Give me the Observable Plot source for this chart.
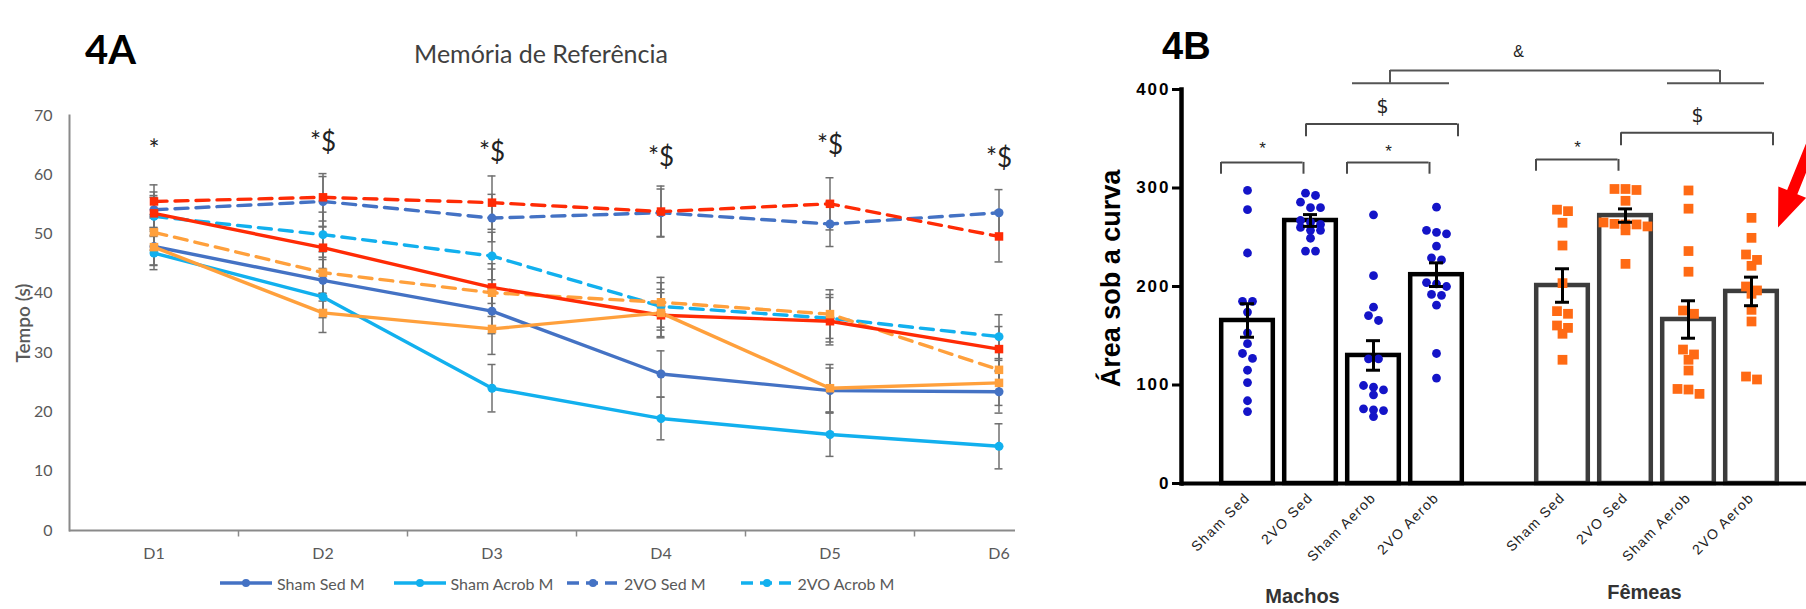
<!DOCTYPE html>
<html><head><meta charset="utf-8">
<script src="https://cdn.jsdelivr.net/npm/d3@7"></script>
<script src="https://cdn.jsdelivr.net/npm/@observablehq/plot@0.6"></script>
<style>
html,body{margin:0;padding:0;background:#fff;}
#root{position:relative;width:1806px;height:609px;overflow:hidden;background:#fff;}
#panelA{position:absolute;left:0;top:0;width:1015px;height:609px;overflow:hidden;}
#panelB{position:absolute;left:1050px;top:0;width:756px;height:609px;}
.lab{position:absolute;white-space:nowrap;line-height:1;}
#tagA{left:85px;top:25px;font:bold 40px Lato,sans-serif;color:#000;}
#tagB{left:1162px;top:25px;font:bold 38px "Liberation Sans",Arial,sans-serif;color:#000;}
#titleA{left:0;width:1082px;top:38px;text-align:center;font:25px Lato,sans-serif;color:#404040;}
#legendA{position:absolute;left:220px;top:574px;height:18px;display:flex;font:16px Lato,sans-serif;color:#595959;}
#legendA .item{width:173.5px;display:flex;align-items:center;}
#legendA svg{margin-right:5px;}
#panelA [aria-label^="x-axis"] text,#panelA [aria-label^="y-axis"] text{font-family:Lato,sans-serif;font-size:16px;fill:#595959;}
#panelB [aria-label^="y-axis"] text{font-family:"Liberation Sans",Arial,sans-serif;font-size:17px;font-weight:bold;letter-spacing:2px;fill:#000;}
#panelB [aria-label^="y-axis"] line,#panelB [aria-label^="y-axis"] path{stroke-width:3px;stroke:#000;}
#panelB [aria-label^="x-axis"] text{font-family:"Liberation Sans",Arial,sans-serif;font-size:14px;letter-spacing:1.3px;fill:#222;}
</style>
</head><body>
<div id="root">
  <div id="panelA"></div>
  <div id="panelB"></div>
  <div class="lab" id="tagA">4A</div>
  <div class="lab" id="titleA">Memória de Referência</div>
  <div class="lab" id="tagB">4B</div>
  <div id="legendA"></div>
</div>
<script>
// ================= Panel 4A data =================
const days = ["D1", "D2", "D3", "D4", "D5", "D6"];
const seriesA = ["Sham Sed M", "Sham Acrob M", "2VO Sed M", "2VO Acrob M", "Sham Sed F", "Sham Acrob F", "2VO Sed F", "2VO Acrob F"];
const legendSeriesA = ["Sham Sed M", "Sham Acrob M", "2VO Sed M", "2VO Acrob M"];
const shamSedM   = [47.9, 42.2, 37.0, 26.4, 23.6, 23.4];
const shamAcrobM = [46.8, 39.4, 24.0, 18.9, 16.2, 14.2];
const vo2SedM    = [54.1, 55.5, 52.7, 53.6, 51.7, 53.6];
const vo2AcrobM  = [53.0, 49.9, 46.3, 37.8, 35.8, 32.7];
const shamSedF   = [53.5, 47.7, 41.0, 36.3, 35.3, 30.6];
const shamAcrobF = [47.8, 36.7, 34.0, 36.7, 24.0, 24.9];
const vo2SedF    = [55.5, 56.2, 55.3, 53.8, 55.1, 49.6];
const vo2AcrobF  = [50.3, 43.5, 40.1, 38.5, 36.5, 27.1];
const semShamSedM   = [3.2, 3.5, 3.8, 3.9, 3.8, 3.6];
const semShamAcrobM = [2.8, 3.5, 4.0, 3.6, 3.7, 3.8];
const semVo2SedM    = [3.0, 4.2, 4.0, 4.0, 3.8, 3.9];
const semVo2AcrobM  = [3.2, 3.8, 4.0, 4.0, 4.0, 3.7];
const semShamSedF   = [3.0, 3.5, 4.0, 3.8, 4.0, 3.8];
const semShamAcrobF = [3.0, 3.3, 4.3, 4.0, 4.0, 3.8];
const semVo2SedF    = [2.8, 4.0, 4.5, 4.3, 4.4, 4.3];
const semVo2AcrobF  = [3.0, 3.5, 4.0, 4.2, 4.1, 3.8];
const yTicksA = [0, 10, 20, 30, 40, 50, 60, 70];
const sigLabelsA = ["*", "*$", "*$", "*$", "*$", "*$"];
const sigYA = [64.1, 65.4, 63.8, 62.9, 64.9, 62.7];

// ================= Panel 4B data =================
const groupsB = ["Sham Sed M", "2VO Sed M", "Sham Aerob M", "2VO Aerob M", "Sham Sed F", "2VO Sed F", "Sham Aerob F", "2VO Aerob F"];
const meanB = [165.5, 267, 130, 212, 201, 272, 166.5, 195];
const semB  = [17, 6, 15, 12, 17, 6.8, 19, 14.5];
const ptsShamSedM   = [297.5, 278, 234, 185, 185, 174, 153, 142, 132, 127, 115, 102.5, 84, 73];
const pts2VOSedM    = [294.7, 292.4, 285.6, 280, 280, 267, 265, 263, 260, 257, 257, 249, 236, 236];
const ptsShamAerobM = [272.8, 211, 179, 170.5, 165.5, 126.6, 126.6, 99.5, 97.8, 95, 90, 75.8, 74.8, 74, 68];
const pts2VOAerobM  = [280.5, 257, 255, 253.5, 241, 229, 227, 204, 202.7, 200, 192, 191, 181, 132, 107];
const ptsShamSedF   = [278, 276.5, 264.7, 241.6, 203.4, 175, 172.3, 160.4, 158, 152, 125.6];
const pts2VOSedF    = [299, 298, 299, 287, 265, 263, 263.6, 263, 261, 257, 223];
const ptsShamAerobF = [297.5, 279, 236, 215, 175.6, 172.3, 136, 131, 125.6, 114.7, 96, 95.4, 91];
const pts2VOAerobF  = [269.7, 249.4, 232.5, 227, 221, 200, 196, 192.6, 176.3, 164.5, 108.6, 105.6];
const yTicksB = [0, 100, 200, 300, 400];
const starBrackets = [
  {from: "Sham Sed M", to: "2VO Sed M", y: 326, label: "*", labelY: 339.8},
  {from: "Sham Aerob M", to: "2VO Aerob M", y: 326, label: "*", labelY: 337.4},
  {from: "Sham Sed F", to: "2VO Sed F", y: 329, label: "*", labelY: 340.8}
];
const dollarBrackets = [
  {from: "2VO Sed M", to: "2VO Aerob M", y: 365, label: "$", labelY: 382},
  {from: "2VO Sed F", to: "2VO Aerob F", y: 356, label: "$", labelY: 373.6}
];
const ampLower = [
  {from: "Sham Aerob M", to: "2VO Aerob M", y: 406.4},
  {from: "Sham Aerob F", to: "2VO Aerob F", y: 406.4}
];
const ampUpper = [{from: "Sham Aerob M", to: "Sham Aerob F", y: 419.3, label: "&", labelY: 438}];
const sexLabels = ["Machos", "Fêmeas"];
const arrowTarget = [{group: "2VO Aerob F", value: 260}];

// ================= build tables =================
const meansA = [shamSedM, shamAcrobM, vo2SedM, vo2AcrobM, shamSedF, shamAcrobF, vo2SedF, vo2AcrobF];
const semsA = [semShamSedM, semShamAcrobM, semVo2SedM, semVo2AcrobM, semShamSedF, semShamAcrobF, semVo2SedF, semVo2AcrobF];
const tableA = seriesA.flatMap((s, k) => days.map((d, i) => ({series: s, day: d, value: meansA[k][i], sem: semsA[k][i]})));
const isDashed = d => d.series.startsWith("2VO");
const isFemale = d => d.series.endsWith(" F");
const sigA = days.map((d, i) => ({day: d, label: sigLabelsA[i], y: sigYA[i]}));
const colorsA = ["#4472c4", "#12b0ee", "#4472c4", "#12b0ee", "#ff2b05", "#ffa03c", "#ff2b05", "#ffa03c"];

const GAP = "__gap__";
const xDomainB = [...groupsB.slice(0, 4), GAP, ...groupsB.slice(4)];
const barsB = groupsB.map((g, i) => ({group: g, sex: g.endsWith(" M") ? "M" : "F", mean: meanB[i], lo: meanB[i] - semB[i], hi: meanB[i] + semB[i]}));
const ptsAll = [ptsShamSedM, pts2VOSedM, ptsShamAerobM, pts2VOAerobM, ptsShamSedF, pts2VOSedF, ptsShamAerobF, pts2VOAerobF];
const ptsB = groupsB.flatMap((g, i) => ptsAll[i].map(v => ({group: g, value: v})));
const ptsM = ptsB.filter(d => d.group.endsWith(" M"));
const ptsF = ptsB.filter(d => d.group.endsWith(" F"));

// beeswarm-like horizontal arrangement of the points inside each band (computed layout)
function swarmX(spacing, rowTol) {
  return (data, facets, channels, scales) => {
    const sx = scales.x, sy = scales.y;
    const X = channels.x.value, Y = channels.y.value;
    const PX = new Float64Array(X.length);
    for (const index of facets) {
      for (const [key, idx] of d3.group(index, i => X[i])) {
        const sorted = Array.from(idx).sort((a, b) => sy(Y[a]) - sy(Y[b]));
        const rows = [];
        for (const i of sorted) {
          const py = sy(Y[i]);
          const row = rows[rows.length - 1];
          if (row && py - row.y0 < rowTol) row.items.push(i);
          else rows.push({y0: py, items: [i]});
        }
        const base = sx(key);
        for (const row of rows) {
          const n = row.items.length;
          row.items.forEach((i, j) => { PX[i] = base + (j - (n - 1) / 2) * spacing; });
        }
      }
    }
    return {data, facets, channels: {x: {value: PX}}};
  };
}

// ================= Panel 4A =================
const tickSymbol = {draw(ctx) { ctx.moveTo(0, 0); ctx.lineTo(0, 6); }};
const plotA = Plot.plot({
  width: 1090, height: 609,
  marginLeft: 69, marginRight: 7, marginTop: 115, marginBottom: 79,
  style: {fontFamily: "Lato, sans-serif", fontSize: "16px", color: "#595959", background: "transparent", maxWidth: "none", overflow: "visible"},
  x: {domain: days, padding: 0, tickSize: 0, tickPadding: 17, label: null},
  y: {domain: [0, 70], ticks: yTicksA, tickSize: 0, tickPadding: 17, label: null},
  color: {domain: seriesA, range: colorsA},
  marks: [
    Plot.frame({anchor: "left", stroke: "#8a8a8a", strokeWidth: 2}),
    Plot.ruleY([0], {stroke: "#8a8a8a", strokeWidth: 2}),
    Plot.dot(days.slice(1), {x: d => d, frameAnchor: "bottom", dx: -84.5, symbol: tickSymbol, fill: "none", stroke: "#8a8a8a", strokeWidth: 1.5}),
    Plot.ruleX(tableA, {x: "day", y1: d => d.value - d.sem, y2: d => d.value + d.sem, stroke: "#6f6f6f", strokeWidth: 1.5}),
    Plot.tickY(tableA, {x: "day", y: d => d.value - d.sem, insetLeft: 80.5, insetRight: 80.5, stroke: "#6f6f6f", strokeWidth: 1.5}),
    Plot.tickY(tableA, {x: "day", y: d => d.value + d.sem, insetLeft: 80.5, insetRight: 80.5, stroke: "#6f6f6f", strokeWidth: 1.5}),
    Plot.line(tableA.filter(d => !isFemale(d) && isDashed(d)), {x: "day", y: "value", z: "series", stroke: "series", strokeWidth: 3.4, strokeDasharray: "13,8"}),
    Plot.line(tableA.filter(d => !isFemale(d) && !isDashed(d)), {x: "day", y: "value", z: "series", stroke: "series", strokeWidth: 3.4}),
    Plot.dot(tableA.filter(d => !isFemale(d)), {x: "day", y: "value", fill: "series", r: 4.5}),
    Plot.line(tableA.filter(d => isFemale(d) && isDashed(d)), {x: "day", y: "value", z: "series", stroke: "series", strokeWidth: 3.4, strokeDasharray: "13,8"}),
    Plot.line(tableA.filter(d => isFemale(d) && !isDashed(d)), {x: "day", y: "value", z: "series", stroke: "series", strokeWidth: 3.4}),
    Plot.dot(tableA.filter(d => isFemale(d)), {x: "day", y: "value", fill: "series", symbol: "square", r: 4.8}),
    Plot.text(sigA, {x: "day", y: "y", text: "label", fontSize: 26, fill: "#222", fontFamily: "Lato, sans-serif"}),
    Plot.text(["Tempo (s)"], {text: d => d, frameAnchor: "left", textAnchor: "middle", rotate: -90, dx: -46, fontSize: 19, fontWeight: 600, fill: "#595959"})
  ]
});
document.getElementById("panelA").appendChild(plotA);

// legend (HTML)
const legend = document.getElementById("legendA");
for (const s of legendSeriesA) {
  const c = colorsA[seriesA.indexOf(s)];
  const dash = s.startsWith("2VO") ? ' stroke-dasharray="12,7"' : "";
  const item = document.createElement("div");
  item.className = "item";
  item.innerHTML = `<svg width="52" height="12"><line x1="0" x2="52" y1="6" y2="6" stroke="${c}" stroke-width="3.5"${dash}/><circle cx="26" cy="6" r="4" fill="${c}"/></svg><span>${s}</span>`;
  legend.appendChild(item);
}

// ================= Panel 4B =================
const filledArrow = {draw(ctx, l) {
  ctx.moveTo(-5.5, 0); ctx.lineTo(-5.5, -l + 38); ctx.lineTo(-15, -l + 38); ctx.lineTo(0, -l);
  ctx.lineTo(15, -l + 38); ctx.lineTo(5.5, -l + 38); ctx.lineTo(5.5, 0); ctx.closePath();
}};
const bracketStroke = "#4a4a4a";
const plotB = Plot.plot({
  width: 756, height: 609,
  marginLeft: 131, marginRight: 0, marginTop: 89, marginBottom: 126,
  style: {fontFamily: '"Liberation Sans", Arial, sans-serif', fontSize: "14px", color: "#000", background: "transparent", maxWidth: "none", overflow: "visible"},
  x: {domain: xDomainB, paddingInner: 0.1076, paddingOuter: 0.4463, align: 0.579, tickSize: 0, tickPadding: 12, tickRotate: -45,
      tickFormat: d => d === GAP ? "" : d.replace(/ [MF]$/, ""), label: null},
  y: {domain: [0, 400], ticks: yTicksB, tickSize: 9, tickPadding: 2, label: null},
  marks: [
    Plot.barY(barsB.filter(d => d.sex === "M"), {x: "group", y: "mean", fill: "white", stroke: "#000", strokeWidth: 4.5, insetLeft: 2.2, insetRight: 2.2}),
    Plot.barY(barsB.filter(d => d.sex === "F"), {x: "group", y: "mean", fill: "white", stroke: "#3c3c3c", strokeWidth: 4.5, insetLeft: 2.2, insetRight: 2.2}),
    Plot.dot(ptsM, {x: "group", y: "value", fill: "#1414c8", r: 4.4, initializer: swarmX(10, 6)}),
    Plot.dot(ptsF, {x: "group", y: "value", fill: "#ff6a14", symbol: "square", r: 5.5, initializer: swarmX(11, 6)}),
    Plot.ruleX(barsB, {x: "group", y1: "lo", y2: "hi", stroke: "#000", strokeWidth: 3}),
    Plot.tickY(barsB, {x: "group", y: "lo", insetLeft: 21, insetRight: 21, stroke: "#000", strokeWidth: 3}),
    Plot.tickY(barsB, {x: "group", y: "hi", insetLeft: 21, insetRight: 21, stroke: "#000", strokeWidth: 3}),
    Plot.frame({anchor: "left", stroke: "#000", strokeWidth: 4.5}),
    Plot.ruleY([0], {stroke: "#000", strokeWidth: 4}),
    // * brackets
    Plot.ruleY(starBrackets, {x1: "from", x2: "to", y: "y", insetLeft: 2, insetRight: 35.5, stroke: bracketStroke, strokeWidth: 2}),
    Plot.ruleX(starBrackets, {x: "from", y1: d => d.y - 12, y2: "y", dx: -26.5, stroke: bracketStroke, strokeWidth: 2}),
    Plot.ruleX(starBrackets, {x: "to", y1: d => d.y - 12, y2: "y", dx: -7, stroke: bracketStroke, strokeWidth: 2}),
    Plot.text(starBrackets, {x: "from", y: "labelY", text: "label", dx: 15, fontSize: 17, fill: "#222"}),
    // $ brackets
    Plot.ruleY(dollarBrackets, {x1: "from", x2: "to", y: "y", insetLeft: 24, insetRight: 7, stroke: bracketStroke, strokeWidth: 2}),
    Plot.ruleX(dollarBrackets, {x: "from", y1: d => d.y - 13, y2: "y", dx: -4.5, stroke: bracketStroke, strokeWidth: 2}),
    Plot.ruleX(dollarBrackets, {x: "to", y1: d => d.y - 13, y2: "y", dx: 21.5, stroke: bracketStroke, strokeWidth: 2}),
    Plot.text(dollarBrackets, {x: "from", y: "labelY", text: "label", dx: 72, fontSize: 19, fill: "#222", fontFamily: "DejaVu Sans, sans-serif"}),
    // & bracket
    Plot.ruleY(ampLower, {x1: "from", x2: "to", y: "y", insetLeft: 7, insetRight: 15, stroke: "#555", strokeWidth: 2}),
    Plot.ruleY(ampUpper, {x1: "from", x2: "to", y: "y", insetLeft: 45, insetRight: -3, stroke: "#555", strokeWidth: 2}),
    Plot.ruleX(ampUpper, {x: "from", y1: ampLower[0].y, y2: "y", dx: 16.5, stroke: "#555", strokeWidth: 2}),
    Plot.ruleX(ampUpper, {x: "to", y1: ampLower[1].y, y2: "y", dx: 31.5, stroke: "#555", strokeWidth: 2}),
    Plot.text(ampUpper, {x: "to", y: "labelY", text: "label", dx: -170, fontSize: 16, fill: "#222"}),
    // group labels
    Plot.text([sexLabels[0]], {x: () => "2VO Sed M", text: d => d, frameAnchor: "bottom", lineAnchor: "bottom", dx: -8, dy: 119, fontSize: 20, fontWeight: "bold", fill: "#333", letterSpacing: "2px"}),
    Plot.text([sexLabels[1]], {x: () => "2VO Sed F", text: d => d, frameAnchor: "bottom", lineAnchor: "bottom", dx: 19, dy: 115, fontSize: 20, fontWeight: "bold", fill: "#333"}),
    // y label
    Plot.text(["Área sob a curva"], {text: d => d, frameAnchor: "left", textAnchor: "middle", rotate: -90, dx: -70, dy: -8, fontSize: 27, fontWeight: "bold", fill: "#000", letterSpacing: "0.5px"}),
    // red arrow annotation
    Plot.vector(arrowTarget, {x: "group", y: "value", dx: 26.5, anchor: "end", rotate: 202, length: 130, shape: filledArrow, fill: "#ff0000", stroke: "none"})
  ]
});
document.getElementById("panelB").appendChild(plotB);
</script>
</body></html>
